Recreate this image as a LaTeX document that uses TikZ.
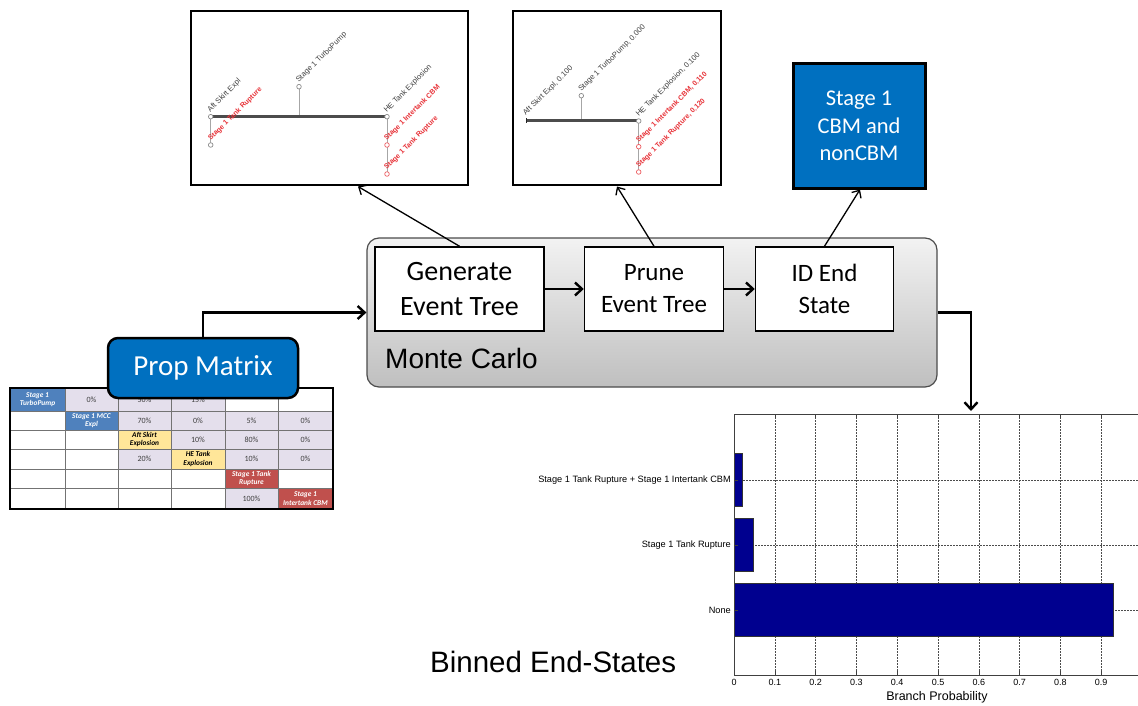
\documentclass[tikz,border=0pt]{standalone}
\usepackage{fontspec}
\setmainfont{Carlito}
\newfontfamily\arialf{Liberation Sans}
\usetikzlibrary{arrows.meta}
\definecolor{boxblue}{HTML}{0070C0}
\definecolor{tblue}{HTML}{4F81BD}
\definecolor{tyellow}{HTML}{FFE699}
\definecolor{tred}{HTML}{C0504D}
\definecolor{tlav}{HTML}{E4DFEC}
\definecolor{barblue}{HTML}{00008F}
\definecolor{etred}{HTML}{E8343A}
\definecolor{etgray}{HTML}{404040}
\newcommand\tcl[6]{\node[#5, minimum width={(#3-#1)*1pt}, minimum height={(#4-#2)*1pt}] at ({(#1+#3)/2},{(#2+#4)/2}) {#6};}
\begin{document}
\begin{tikzpicture}[x=1pt,y=-1pt,
  every node/.style={inner sep=0pt},
  procbox/.style={draw=black, line width=1.5pt, fill=white, align=center},
  etframe/.style={draw=black, line width=1.5pt, fill=white},
  arr/.style={-{Straight Barb[length=6pt,width=11pt]}, line width=1.3pt},
  barr/.style={-{Straight Barb[length=7pt,width=13pt]}, line width=2.4pt},
  thickbranch/.style={line width=3pt, draw=black!70},
  branch/.style={line width=0.9pt, draw=black!35},
  gc/.style={draw=black!45, line width=0.7pt, fill=white},
  rc/.style={draw=etred!80, line width=0.7pt, fill=white},
  glab/.style={anchor=south west, rotate=45, inner sep=1.2pt, text=etgray, font=\arialf\fontsize{7.6}{8}\selectfont},
  rlab/.style={anchor=south west, rotate=45, inner sep=1.2pt, text=etred, font=\arialf\bfseries\fontsize{7.1}{8}\selectfont},
  tcell/.style={draw=black!55, line width=0.9pt, align=center, text=black!75, font=\fontsize{8}{8.5}\selectfont},
  tlab/.style={tcell, font=\bfseries\itshape\fontsize{7.4}{8.3}\selectfont},
  gridl/.style={draw=black!70, line width=0.6pt, dash pattern=on 1.5pt off 1.5pt},
  ticklab/.style={font=\arialf\fontsize{9}{10}\selectfont},
  catlab/.style={font=\arialf\fontsize{9.2}{10}\selectfont},
]
\useasboundingbox (0,0) rectangle (1138,706);
\fill[white] (0,0) rectangle (1138,706);

% ---------- event tree 1 ----------
\node[etframe, minimum width=277pt, minimum height=174pt] (tree1) at (329.5,98) {};
\draw[branch] (210.7,116.7) -- (210.7,145);
\draw[branch] (299,116.7) -- (299,86.7);
\draw[branch] (387,116.7) -- (387,174);
\draw[thickbranch] (210.7,116.7) -- (387,116.7);
\draw[gc] (210.7,116.7) circle[radius=2.3pt];
\draw[gc] (210.7,145) circle[radius=2.3pt];
\draw[gc] (299,86.7) circle[radius=2.3pt];
\draw[gc] (387,116.7) circle[radius=2.3pt];
\draw[rc] (387,145) circle[radius=2.3pt];
\draw[rc] (387,174) circle[radius=2.3pt];
\node[glab] (l1a) at (211.5,115.5) {Aft Skirt Expl};
\node[rlab] (l1b) at (212,144) {Stage 1 Tank Rupture};
\node[glab] (l1c) at (300,86) {Stage 1 TurboPump};
\node[glab] (l1d) at (388,116) {HE Tank Explosion};
\node[rlab] (l1e) at (388,144) {Stage 1 Intertank CBM};
\node[rlab] (l1f) at (388,173) {Stage 1 Tank Rupture};

% ---------- event tree 2 ----------
\node[etframe, minimum width=208pt, minimum height=174pt] (tree2) at (617,98) {};
\draw[branch] (581.3,121) -- (581.3,95.7);
\draw[branch] (638.7,121) -- (638.7,172);
\draw[thickbranch] (526,121) -- (638.7,121);
\draw[line width=1.2pt, black!85] (526.5,118.5) -- (526.5,123);
\draw[gc] (581.3,95.7) circle[radius=2.3pt];
\draw[gc] (638.7,121) circle[radius=2.3pt];
\draw[rc] (638.7,146.7) circle[radius=2.3pt];
\draw[rc] (638.7,172) circle[radius=2.3pt];
\node[glab] (l2a) at (527,119) {Aft Skirt Expl, 0.100};
\node[glab] (l2b) at (582.5,95) {Stage 1 TurboPump, 0.000};
\node[glab] (l2c) at (640,120) {HE Tank Explosion, 0.100};
\node[rlab] (l2d) at (640,146) {Stage 1 Intertank CBM, 0.110};
\node[rlab] (l2e) at (640,171) {Stage 1 Tank Rupture, 0.120};

% ---------- CBM box ----------
\node[draw=black, line width=3pt, fill=boxblue, text=white, align=center,
  font=\fontsize{22.5}{27.5}\selectfont, minimum width=132pt, minimum height=124pt] (cbm) at (859,126) {Stage 1\\CBM and\\nonCBM};

% ---------- Monte Carlo ----------
\node[draw=black!70, line width=1.2pt, rounded corners=12pt, top color=black!5, bottom color=black!25,
  minimum width=570pt, minimum height=149pt] (mc) at (652,312.5) {};
\node[anchor=base west, font=\arialf\fontsize{28}{30}\selectfont] (mclab) at (385,368) {Monte Carlo};
\node[procbox, font=\fontsize{28}{35}\selectfont, minimum width=169pt, minimum height=84pt] (gen) at (459.5,289) {Generate\\Event Tree};
\node[procbox, font=\fontsize{25}{32}\selectfont, minimum width=139pt, minimum height=84pt] (prune) at (654,289) {Prune\\Event Tree};
\node[procbox, font=\fontsize{25}{32}\selectfont, minimum width=138pt, minimum height=84pt] (idend) at (824.5,289) {ID End\\State};

\coordinate (t1in) at (358,186.5);
\coordinate (t2in) at (617,186.5);
\coordinate (cbmin) at (860,189.5);
\draw[arr] (gen.north) -- (t1in);
\draw[arr] (prune.north) -- (t2in);
\draw[arr] (idend.north) -- (cbmin);
\draw[barr] (gen.east) -- (prune.west);
\draw[barr] (prune.east) -- (idend.west);

% ---------- table ----------
\fill[white] (10,388) rectangle (333,509);
\draw[black!55, line width=0.9pt]
  \foreach \x in {65,118,171,225,278} {(\x,388) -- (\x,509)}
  \foreach \y in {411,430,449,469,488} {(10,\y) -- (333,\y)};
\tcl{10}{388}{65}{411}{tlab, fill=tblue, text=white, name=m11}{Stage 1\\TurboPump}
\tcl{65}{388}{118}{411}{tcell, fill=tlav, name=m12}{0\%}
\tcl{118}{388}{171}{411}{tcell, fill=tlav, name=m13}{50\%}
\tcl{171}{388}{225}{411}{tcell, fill=tlav, name=m14}{15\%}
\tcl{65}{411}{118}{430}{tlab, fill=tblue, text=white, name=m22}{Stage 1 MCC\\Expl}
\tcl{118}{411}{171}{430}{tcell, fill=tlav, name=m23}{70\%}
\tcl{171}{411}{225}{430}{tcell, fill=tlav, name=m24}{0\%}
\tcl{225}{411}{278}{430}{tcell, fill=tlav, name=m25}{5\%}
\tcl{278}{411}{333}{430}{tcell, fill=tlav, name=m26}{0\%}
\tcl{118}{430}{171}{449}{tlab, fill=tyellow, text=black, name=m33}{Aft Skirt\\Explosion}
\tcl{171}{430}{225}{449}{tcell, fill=tlav, name=m34}{10\%}
\tcl{225}{430}{278}{449}{tcell, fill=tlav, name=m35}{80\%}
\tcl{278}{430}{333}{449}{tcell, fill=tlav, name=m36}{0\%}
\tcl{118}{449}{171}{469}{tcell, fill=tlav, name=m43}{20\%}
\tcl{171}{449}{225}{469}{tlab, fill=tyellow, text=black, name=m44}{HE Tank\\Explosion}
\tcl{225}{449}{278}{469}{tcell, fill=tlav, name=m45}{10\%}
\tcl{278}{449}{333}{469}{tcell, fill=tlav, name=m46}{0\%}
\tcl{225}{469}{278}{488}{tlab, fill=tred, text=white, name=m55}{Stage 1 Tank\\Rupture}
\tcl{225}{488}{278}{509}{tcell, fill=tlav, name=m65}{100\%}
\tcl{278}{488}{333}{509}{tlab, fill=tred, text=white, name=m66}{Stage 1\\Intertank CBM}
\draw[black, line width=2.5pt] (10,388) rectangle (333,509);

% ---------- Prop Matrix ----------
\node[draw=black, line width=2.5pt, fill=boxblue, text=white, rounded corners=10pt,
  font=\fontsize{29}{30}\selectfont, minimum width=190pt, minimum height=60pt] (pm) at (203,368) {Prop Matrix};
\draw[barr] (pm.north) |- (mc.west);
\coordinate (chtop) at (971,411);
\draw[barr] (mc.east) -| (chtop);

% ---------- bar chart ----------
\foreach \k in {1,...,9} \draw[gridl] ({734+40.8*\k},414) -- ({734+40.8*\k},675);
\foreach \y in {480,545,610} \draw[gridl] (734,\y) -- (1138,\y);
\draw[fill=barblue, draw=black!80, line width=0.6pt] (734,453) rectangle (742,506);
\draw[fill=barblue, draw=black!80, line width=0.6pt] (734,518) rectangle (753,571);
\draw[fill=barblue, draw=black!80, line width=0.6pt] (734,583) rectangle (1113,636);
\draw[black!75, line width=0.8pt] (1138,414) -- (734,414) -- (734,675) -- (1138,675);
\foreach \k in {0,...,9} {
  \draw[black!75, line width=0.6pt] ({734+40.8*\k},675) -- ({734+40.8*\k},671);
  \draw[black!75, line width=0.6pt] ({734+40.8*\k},414) -- ({734+40.8*\k},418);
}
\foreach \y in {480,545,610} \draw[black!75, line width=0.6pt] (734,\y) -- (738,\y);
\foreach \k/\t in {0/0,1/0.1,2/0.2,3/0.3,4/0.4,5/0.5,6/0.6,7/0.7,8/0.8,9/0.9}
  \node[ticklab, anchor=north] (tk\k) at ({734+40.8*\k},679) {\t};
\node[font=\arialf\fontsize{12.5}{13}\selectfont] (xlab) at (937,697) {Branch Probability};
\node[catlab, anchor=east] (cat1) at (731,480) {Stage 1 Tank Rupture + Stage 1 Intertank CBM};
\node[catlab, anchor=east] (cat2) at (731,545) {Stage 1 Tank Rupture};
\node[catlab, anchor=east] (cat3) at (731,610) {None};
\node[anchor=base west, font=\arialf\fontsize{29.5}{30}\selectfont] (binned) at (430,672) {Binned End-States};
\end{tikzpicture}
\end{document}
